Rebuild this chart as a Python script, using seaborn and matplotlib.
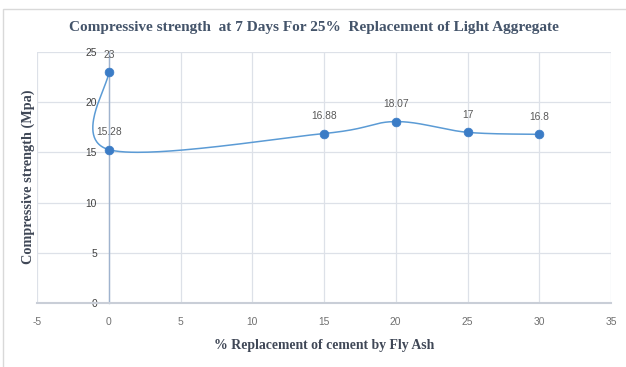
import numpy as np
import matplotlib
matplotlib.use("Agg")
import matplotlib.pyplot as plt
import seaborn as sns
from matplotlib.patches import Rectangle

# ---- data ----
replacement = [0, 0, 15, 20, 25, 30]
strength = [23, 15.28, 16.88, 18.07, 17, 16.8]
labels = ["23", "15.28", "16.88", "18.07", "17", "16.8"]
x_ticks = [-5, 0, 5, 10, 15, 20, 25, 30, 35]
y_ticks = [0, 5, 10, 15, 20, 25]

title = "Compressive strength  at 7 Days For 25%  Replacement of Light Aggregate"
xlabel = "% Replacement of cement by Fly Ash"
ylabel = "Compressive strength (Mpa)"

sns.set_theme(style="white")
plt.rcParams['font.family'] = ['Liberation Sans', 'DejaVu Sans']

W, H = 626, 367
fig = plt.figure(figsize=(W / 100, H / 100), dpi=100)
ax = fig.add_axes([37 / W, 1 - 303 / H, (611 - 37) / W, (303 - 52) / H])


# Excel-like smoothing (Catmull-Rom as cubic Bezier)
def smooth(xs, ys, n=60):
    P = np.column_stack([xs, ys]).astype(float)
    m = len(P)
    out = []
    for i in range(m - 1):
        p0 = P[max(i - 1, 0)]
        p1 = P[i]
        p2 = P[i + 1]
        p3 = P[min(i + 2, m - 1)]
        c1 = p1 + (p2 - p0) / 6.0
        c2 = p2 - (p3 - p1) / 6.0
        t = np.linspace(0, 1, n)[:, None]
        seg = ((1 - t) ** 3) * p1 + 3 * ((1 - t) ** 2) * t * c1 + 3 * (1 - t) * t ** 2 * c2 + t ** 3 * p2
        out.append(seg if i == 0 else seg[1:])
    return np.vstack(out)


curve = smooth(replacement, strength)
sns.lineplot(x=curve[:, 0], y=curve[:, 1], sort=False, estimator=None,
             color="#5B9BD5", lw=1.1, ax=ax, zorder=3)
sns.scatterplot(x=replacement, y=strength, s=40, color="#3B7CC6",
                edgecolor="#3B7CC6", linewidth=0.5, ax=ax, zorder=4)

for xv, yv, lab in zip(replacement, strength, labels):
    ax.annotate(lab, (xv, yv), xytext=(0, 12.5), textcoords="offset points",
                ha="center", va="center", fontsize=7.4, color="#595959")

ax.set_xlim(-5, 35)
ax.set_ylim(0, 25)
ax.set_xticks(x_ticks)
ax.set_yticks(y_ticks)
ax.set_xticklabels([str(v) for v in x_ticks])
ax.set_yticklabels([str(v) for v in y_ticks])
ax.grid(True, color="#DDE1E8", lw=0.9)
ax.set_axisbelow(True)

for s in ["top", "right"]:
    ax.spines[s].set_visible(False)
ax.spines["left"].set_position(("data", 0))
ax.spines["left"].set_color("#9FB3CE")
ax.spines["left"].set_linewidth(1.0)
ax.spines["left"].set_zorder(2)
ax.spines["bottom"].set_color("#C9CED7")
ax.spines["bottom"].set_linewidth(1.5)

ax.tick_params(axis="x", length=0, pad=10, labelsize=7.4, labelcolor="#707070")
ax.tick_params(axis="y", length=0, pad=8.5, labelsize=7.4, labelcolor="#404040")
ax.set_xlabel("")
ax.set_ylabel("")

serif = ['Liberation Serif', 'DejaVu Serif']
fig.text(314 / W, 1 - 28 / H, title, ha="center", va="center", fontsize=11,
         fontweight="bold", color="#44546A", family=serif)
fig.text(324 / W, 1 - 346 / H, xlabel, ha="center", va="center", fontsize=9.9,
         fontweight="bold", color="#3F4756", family=serif)
fig.text(28 / W, 1 - 177 / H, ylabel, ha="center", va="center", rotation=90,
         fontsize=10.3, fontweight="bold", color="#3F4756", family=serif)

fig.patches.append(Rectangle((3 / W, -0.05), 1.0, 1 - 9 / H + 0.05,
                             transform=fig.transFigure, fill=False,
                             ec="#D9D9D9", lw=1.0))

fig.savefig("out.png", dpi=100)
